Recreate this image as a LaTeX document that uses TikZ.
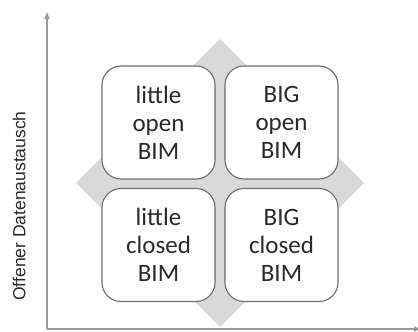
\documentclass[tikz,border=0pt]{standalone}
\usepackage{fontspec}
\setmainfont{Carlito}
\newfontfamily\axisfont{Liberation Sans}
\usetikzlibrary{arrows.meta}
\definecolor{axisgray}{HTML}{9A9A9A}
\definecolor{diamondgray}{HTML}{D9D9D9}
\definecolor{boxedge}{HTML}{6E6E6E}
\definecolor{textgray}{HTML}{2A2A2A}
\tikzset{
  axisline/.style={draw=axisgray, line width=1.3pt, -{Triangle[length=7pt,width=5pt]}},
  quad/.style={draw=boxedge, fill=white, line width=1.1pt, rounded corners=19pt,
    minimum width=113pt, minimum height=113pt, inner sep=0pt,
    align=center, text=textgray,
    font=\fontsize{25}{28}\selectfont},
}
\begin{document}
\begin{tikzpicture}[x=1pt, y=1pt]
\useasboundingbox (0,0) rectangle (418,332);
% background diamond
\fill[diamondgray] (220,293) -- (364,149) -- (220,5) -- (76,149) -- cycle;
% axes
\coordinate (origin) at (47,3);
\coordinate (ytop) at (47,320);
\coordinate (xend) at (421,3);
\draw[axisline] (origin) -- (ytop);
\draw[axisline] (origin) -- (xend);
% axis label
\node[rotate=90, text=textgray, font=\axisfont\fontsize{17.5}{20}\selectfont] (ylabel) at (19,126) {Offener Datenaustausch};
% four quadrants
\node[quad] (lo) at (158.5,209.5) {little\\open\\BIM};
\node[quad] (bo) at (281.5,209.5) {BIG\\open\\BIM};
\node[quad] (lc) at (158.5,87) {little\\closed\\BIM};
\node[quad] (bc) at (281.5,87) {BIG\\closed\\BIM};
\end{tikzpicture}
\end{document}
